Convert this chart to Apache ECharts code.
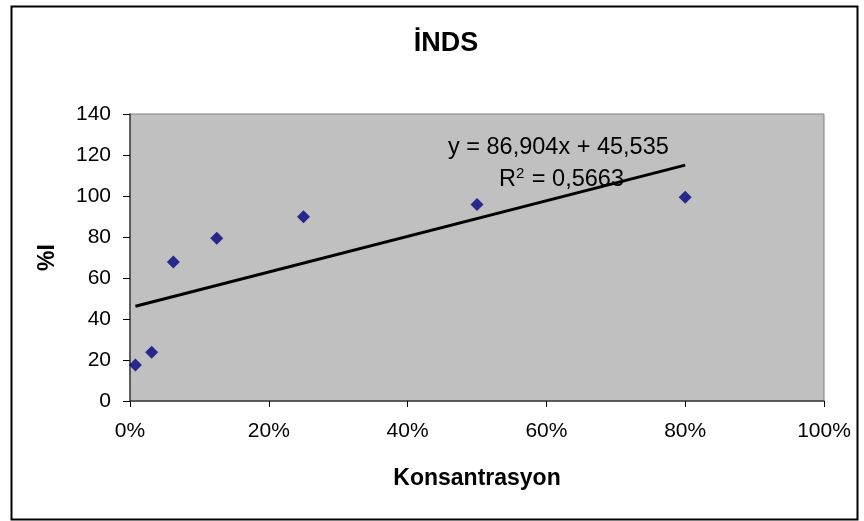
<!DOCTYPE html>
<html>
<head>
<meta charset="utf-8">
<script src="https://cdn.jsdelivr.net/npm/echarts@6/dist/echarts.min.js"></script>
<style>
  html, body { margin: 0; padding: 0; background: #fff; }
  #chart { width: 864px; height: 521px; }
</style>
</head>
<body>
<div id="chart"></div>
<script>
// konsantrasyon (fraction) and %I values
const konsantrasyon = [0.0078, 0.03125, 0.0625, 0.125, 0.25, 0.5, 0.8];
const inhibisyon = [17.6, 23.8, 67.8, 79.4, 89.9, 95.9, 99.4];
const xTicks = [0, 0.2, 0.4, 0.6, 0.8, 1.0];
const yTicks = [0, 20, 40, 60, 80, 100, 120, 140];
// linear trendline from the label
const egim = 86.904;
const kesisim = 45.535;

const font = "'Liberation Sans', Arial, sans-serif";

const xMin = Math.min(...konsantrasyon);
const xMax = Math.max(...konsantrasyon);
const trend = [
  [xMin, egim * xMin + kesisim],
  [xMax, egim * xMax + kesisim]
];

const chart = echarts.init(document.getElementById("chart"));
chart.setOption({
  animation: false,
  backgroundColor: "#fff",
  title: {
    text: "İNDS",
    left: 441,
    top: 25,
    textAlign: "center",
    textStyle: { fontFamily: font, fontSize: 27, fontWeight: "bold", color: "#000" }
  },
  grid: {
    left: 130,
    right: 40,
    top: 114,
    bottom: 120,
    show: true,
    backgroundColor: "#C0C0C0",
    borderColor: "#808080",
    borderWidth: 1
  },
  xAxis: {
    type: "value",
    min: xTicks[0],
    max: xTicks[xTicks.length - 1],
    interval: 0.2,
    name: "Konsantrasyon",
    nameLocation: "middle",
    nameGap: 66,
    nameTextStyle: { fontFamily: font, fontSize: 23, fontWeight: "bold", color: "#000" },
    axisLine: { show: true, lineStyle: { color: "#404040", width: 1.5 } },
    axisTick: { show: true, inside: false, length: 6, lineStyle: { color: "#000" } },
    splitLine: { show: false },
    axisLabel: {
      margin: 20,
      fontFamily: font,
      fontSize: 21,
      color: "#000",
      formatter: v => Math.round(v * 100) + "%"
    }
  },
  yAxis: {
    type: "value",
    min: yTicks[0],
    max: yTicks[yTicks.length - 1],
    interval: 20,
    name: "%I",
    nameLocation: "middle",
    nameGap: 71,
    nameRotate: 90,
    nameTextStyle: { fontFamily: font, fontSize: 23, fontWeight: "bold", color: "#000" },
    axisLine: { show: true, lineStyle: { color: "#404040", width: 1.5 } },
    axisTick: { show: true, inside: false, length: 7, lineStyle: { color: "#000" } },
    splitLine: { show: false },
    axisLabel: { margin: 19, fontFamily: font, fontSize: 21, color: "#000" }
  },
  series: [
    {
      name: "%I",
      type: "scatter",
      symbol: "diamond",
      symbolSize: 13,
      itemStyle: { color: "#000080" },
      data: konsantrasyon.map((x, i) => [x, inhibisyon[i]]),
      z: 3
    },
    {
      name: "trend",
      type: "line",
      symbol: "none",
      lineStyle: { color: "#000", width: 3 },
      data: trend,
      z: 2
    }
  ],
  graphic: [
    {
      type: "rect",
      left: 9,
      top: 4,
      shape: { width: 846, height: 513 },
      style: { fill: "none", stroke: "#000", lineWidth: 2 },
      silent: true
    },
    {
      type: "text",
      left: 448,
      top: 136,
      z: 10,
      style: {
        text: "y = 86,904x + 45,535",
        font: "23.5px " + font,
        fill: "#000"
      }
    },
    {
      type: "text",
      left: 499,
      top: 166,
      z: 10,
      style: {
        text: "R{sup|2} = 0,5663",
        font: "23.5px " + font,
        fill: "#000",
        rich: {
          sup: { fontSize: 15, fontFamily: font, verticalAlign: "top", padding: [0, 1, 13, 0] }
        }
      }
    }
  ]
});
</script>
</body>
</html>
